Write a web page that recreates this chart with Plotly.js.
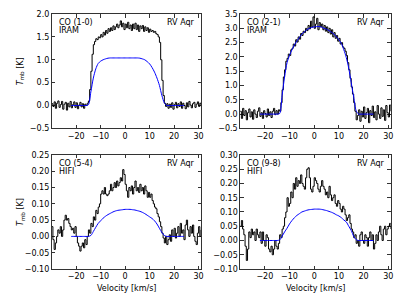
<!DOCTYPE html>
<html><head><meta charset="utf-8">
<script src="https://cdn.plot.ly/plotly-3.0.1.min.js"></script>
<style>html,body{margin:0;padding:0;background:#fff;}#c{width:407px;height:305px;}</style>
</head><body><div id="c"></div>
<script>
// channel velocities [km/s]
var velocity = [-30,-29.5,-29,-28.5,-28,-27.5,-27,-26.5,-26,-25.5,-25,-24.5,-24,-23.5,-23,-22.5,-22,-21.5,-21,-20.5,-20,-19.5,-19,-18.5,-18,-17.5,-17,-16.5,-16,-15.5,
-15,-14.5,-14,-13.5,-13,-12.5,-12,-11.5,-11,-10.5,-10,
-9.5,-9,-8.5,-8,-7.5,-7,-6.5,-6,-5.5,-5,-4.5,-4,-3.5,-3,-2.5,-2,-1.5,-1,-0.5,0,0.5,1,1.5,2,2.5,3,3.5,4,4.5,5,5.5,6,6.5,7,7.5,8,8.5,9,9.5,10,10.5,11,11.5,12,
12.5,13,13.5,14,14.5,15,15.5,16,16.5,17,
17.5,18,18.5,19,19.5,20,20.5,21,21.5,22,22.5,23,23.5,24,24.5,25,25.5,26,26.5,27,27.5,28,28.5,29,29.5,30,30.5,31];

var co10 = [0.04,-0.02,0.08,-0.06,0.05,0.1,-0.04,0.02,0.09,-0.08,0.03,0.07,-0.1,0.05,-0.03,0.09,-0.05,0.02,0.08,-0.04,0.06,-0.07,0.01,0.07,-0.03,0.04,-0.06,0.03,0.0,0.05,
0.1,0.35,0.75,1.12,1.33,1.4,1.46,1.44,1.5,1.48,1.55,
1.5,1.6,1.54,1.64,1.58,1.68,1.62,1.7,1.64,1.74,1.66,1.72,1.78,1.7,1.76,1.85,1.72,1.8,1.66,1.78,1.7,1.82,1.68,1.76,1.64,1.78,1.68,1.8,1.66,1.76,1.62,1.74,1.68,1.75,1.62,1.72,1.64,1.7,1.6,1.67,1.62,1.64,1.6,1.62,
1.57,1.55,1.5,1.38,1.0,0.55,0.22,0.05,-0.02,0.04,
-0.06,0.03,-0.04,0.06,-0.08,0.02,0.07,-0.05,0.04,-0.02,0.08,-0.06,0.05,0.0,-0.07,0.06,-0.03,0.09,0.01,-0.05,0.04,0.07,-0.04,0.03,0.08,-0.02,0.05,0.0];

var co21 = [0.1,-0.15,0.2,-0.05,0.12,-0.2,0.05,0.18,-0.1,0.08,-0.18,0.15,0.0,-0.12,0.1,0.22,-0.08,0.05,-0.15,0.12,0.02,-0.1,0.18,-0.05,0.08,-0.12,0.1,0.2,-0.02,0.12,
0.0,0.15,0.1,0.4,0.85,1.3,1.55,1.85,1.95,2.1,2.05,
2.25,2.3,2.45,2.38,2.6,2.52,2.7,2.62,2.82,2.75,2.9,2.85,3.0,2.92,3.1,2.98,3.25,3.05,3.4,3.0,3.15,3.35,2.95,3.2,3.05,3.15,2.95,3.1,2.9,3.05,2.85,3.0,2.8,2.95,2.7,2.85,2.65,2.75,2.55,2.65,2.45,2.5,2.35,2.3,
2.2,2.05,1.8,1.55,1.25,0.95,0.7,0.4,0.1,-0.2,
-0.05,0.15,-0.25,0.1,-0.1,0.25,-0.15,0.05,0.2,-0.3,0.12,-0.05,0.28,-0.12,0.08,-0.2,0.3,0.0,-0.15,0.22,-0.08,0.15,-0.22,0.3,0.05,-0.1,0.32,0.1];

var co54 = [0.03,-0.01,-0.04,-0.02,0.0,0.02,0.01,0.03,0.0,0.02,0.05,0.065,0.05,0.055,0.04,0.03,0.02,0.025,0.01,0.03,0.0,-0.02,-0.03,-0.045,-0.03,-0.02,-0.035,-0.01,-0.025,0.0,
0.02,0.01,0.04,0.03,0.06,0.05,0.08,0.07,0.09,0.1,0.13,
0.14,0.13,0.15,0.13,0.125,0.13,0.14,0.16,0.14,0.15,0.165,0.15,0.17,0.155,0.165,0.18,0.17,0.205,0.19,0.16,0.14,0.12,0.15,0.14,0.155,0.13,0.15,0.17,0.14,0.15,0.135,0.16,0.14,0.15,0.13,0.155,0.14,0.12,0.135,0.12,0.13,0.11,0.1,0.09,
0.085,0.07,0.06,0.045,0.03,0.01,-0.005,-0.02,0.0,-0.025,
-0.01,0.005,-0.015,0.02,0.0,0.025,-0.005,0.01,0.03,0.0,0.04,0.01,0.02,-0.01,0.035,0.05,0.02,0.0,0.03,0.01,0.035,0.0,-0.015,-0.025,0.01,0.03,0.0,0.02];

var co98 = [0.05,0.07,0.04,0.02,-0.02,-0.07,-0.03,0.03,0.01,0.04,0.02,0.03,0.0,0.04,0.02,0.01,0.03,-0.01,0.03,0.0,-0.02,0.02,0.01,-0.03,-0.04,-0.02,-0.05,-0.03,0.0,-0.02,
-0.03,-0.01,0.02,0.01,0.04,0.05,0.08,0.1,0.15,0.12,0.13,
0.17,0.15,0.2,0.18,0.22,0.19,0.21,0.2,0.23,0.2,0.19,0.18,0.22,0.25,0.255,0.22,0.18,0.17,0.19,0.22,0.21,0.2,0.18,0.17,0.19,0.21,0.19,0.18,0.16,0.17,0.15,0.19,0.16,0.14,0.15,0.16,0.13,0.12,0.14,0.13,0.11,0.1,0.12,0.11,
0.09,0.07,0.08,0.09,0.06,0.04,0.03,0.01,0.02,-0.01,
0.0,-0.02,0.02,0.03,0.0,-0.01,0.02,0.01,-0.02,0.01,0.03,0.0,0.02,-0.03,-0.01,0.02,0.0,0.03,0.05,0.02,0.0,0.04,0.05,0.02,0.04,0.05,0.06,0.04];

// model velocities [km/s]
var modelVel = [-22,-21,-20,-19,-18,-17,-16,-15,-14,-13,-12,-11,-10,-9,-8,-7,-6,-5,-4,-3,-2,-1,0,1,2,3,4,5,6,7,8,9,10,11,12,13,14,15,16,17,18,19,20,21,22,23,24];
var model10 = [0,0,0,0,0,0,0,0.02,0.3,0.6,0.8,0.92,0.97,1.0,1.02,1.035,1.04,1.04,1.04,1.04,1.04,1.04,1.04,1.04,1.04,1.04,1.04,1.04,1.035,1.02,1.0,0.96,0.91,0.83,0.73,0.6,0.44,0.22,0.06,0,0,0,0,0,0,0,0];
var model21 = [0,0,0,0,0,0,0,0,0.02,0.65,1.3,1.8,2.05,2.25,2.42,2.56,2.68,2.8,2.88,2.95,3.0,3.03,3.05,3.06,3.06,3.04,3.0,2.97,2.92,2.86,2.8,2.7,2.6,2.47,2.25,1.98,1.6,1.1,0.6,0.12,0,0,0,0,0,0,0];
var model54 = [0,0,0,0,0,0,0,0,0.003,0.015,0.028,0.04,0.048,0.056,0.062,0.067,0.071,0.075,0.078,0.08,0.081,0.082,0.083,0.083,0.083,0.082,0.081,0.079,0.077,0.074,0.07,0.065,0.06,0.055,0.048,0.038,0.025,0.012,0.003,0,0,0,0,0,0,0,0];
var model98 = [0,0,0,0,0,0,0,0,0.002,0.015,0.03,0.043,0.058,0.07,0.08,0.088,0.094,0.1,0.103,0.106,0.108,0.109,0.11,0.11,0.11,0.109,0.107,0.105,0.102,0.099,0.095,0.09,0.086,0.08,0.072,0.065,0.05,0.035,0.015,0.003,0,0,0,0,0,0,0];

var lineNames = ["CO (1-0)","CO (2-1)","CO (5-4)","CO (9-8)"];
var telescopes = ["IRAM","IRAM","HIFI","HIFI"];
var starName = "RV Aqr";
var xTicks = [-20,-10,0,10,20,30];
var yTicks1 = [-0.5,0.0,0.5,1.0,1.5,2.0];
var yTicks2 = [-0.5,0.0,0.5,1.0,1.5,2.0,2.5,3.0,3.5];
var yTicks3 = [-0.10,-0.05,0.00,0.05,0.10,0.15,0.20,0.25];
var yTicks4 = [-0.10,-0.05,0.00,0.05,0.10,0.15,0.20,0.25,0.30];

var obs = [co10, co21, co54, co98];
var mod = [model10, model21, model54, model98];
var traces = [];
for (var i = 0; i < 4; i++) {
  var ax = i === 0 ? '' : String(i + 1);
  traces.push({x: velocity, y: obs[i], xaxis: 'x' + ax, yaxis: 'y' + ax, type: 'scatter', mode: 'lines',
    line: {shape: 'hv', color: '#000', width: 1}, hoverinfo: 'skip'});
  traces.push({x: modelVel, y: mod[i], xaxis: 'x' + ax, yaxis: 'y' + ax, type: 'scatter', mode: 'lines',
    line: {shape: 'spline', smoothing: 0.8, color: '#0000ff', width: 1}, hoverinfo: 'skip'});
}

var F = {family: 'DejaVu Sans, sans-serif', size: 8, color: '#000'};
function xa(dom, anchor) {
  return {domain: dom, anchor: anchor, range: [-30, 31], tickvals: xTicks, ticks: 'inside', ticklen: 3.5,
    tickwidth: 0.8, tickcolor: '#000', showline: true, linecolor: '#000', linewidth: 0.8, mirror: 'ticks',
    showgrid: false, zeroline: false, tickfont: F};
}
function ya(dom, anchor, range, vals, fmt) {
  return {domain: dom, anchor: anchor, range: range, tickvals: vals, tickformat: fmt, ticks: 'inside', ticklen: 3.5,
    tickwidth: 0.8, tickcolor: '#000', showline: true, linecolor: '#000', linewidth: 0.8, mirror: 'ticks',
    showgrid: false, zeroline: false, tickfont: F};
}
var xL = [0.127, 0.494], xR = [0.590, 0.960];
var yT = [0.579, 0.954], yB = [0.118, 0.492];

var ann = [];
var refs = [['x','y'],['x2','y2'],['x3','y3'],['x4','y4']];
for (var k = 0; k < 4; k++) {
  ann.push({xref: refs[k][0] + ' domain', yref: refs[k][1] + ' domain', x: 0.035, y: 0.985, xanchor: 'left', yanchor: 'top',
    text: lineNames[k], showarrow: false, font: F});
  ann.push({xref: refs[k][0] + ' domain', yref: refs[k][1] + ' domain', x: 0.035, y: 0.91, xanchor: 'left', yanchor: 'top',
    text: telescopes[k], showarrow: false, font: F});
  ann.push({xref: refs[k][0] + ' domain', yref: refs[k][1] + ' domain', x: 0.972, y: 0.985, xanchor: 'right', yanchor: 'top',
    text: starName, showarrow: false, font: F});
}
var ytitle = '<i>T</i><sub>mb</sub> [K]';
ann.push({xref: 'paper', yref: 'paper', x: 21/407, y: (yT[0]+yT[1])/2, xanchor: 'center', yanchor: 'middle', textangle: -90, text: ytitle, showarrow: false, font: F});
ann.push({xref: 'paper', yref: 'paper', x: 21/407, y: (yB[0]+yB[1])/2, xanchor: 'center', yanchor: 'middle', textangle: -90, text: ytitle, showarrow: false, font: F});
ann.push({xref: 'paper', yref: 'paper', x: (xL[0]+xL[1])/2, y: 1-288/305, xanchor: 'center', yanchor: 'middle', text: 'Velocity [km/s]', showarrow: false, font: F});
ann.push({xref: 'paper', yref: 'paper', x: (xR[0]+xR[1])/2, y: 1-288/305, xanchor: 'center', yanchor: 'middle', text: 'Velocity [km/s]', showarrow: false, font: F});

var layout = {
  width: 407, height: 305, margin: {l: 0, r: 0, t: 0, b: 0}, showlegend: false,
  paper_bgcolor: '#fff', plot_bgcolor: '#fff', font: F,
  xaxis: xa(xL, 'y'), yaxis: ya(yT, 'x', [-0.5, 2.0], yTicks1, '.1f'),
  xaxis2: xa(xR, 'y2'), yaxis2: ya(yT, 'x2', [-0.5, 3.5], yTicks2, '.1f'),
  xaxis3: xa(xL, 'y3'), yaxis3: ya(yB, 'x3', [-0.10, 0.25], yTicks3, '.2f'),
  xaxis4: xa(xR, 'y4'), yaxis4: ya(yB, 'x4', [-0.10, 0.30], yTicks4, '.2f'),
  annotations: ann
};
Plotly.newPlot('c', traces, layout, {staticPlot: true, displayModeBar: false});
</script></body></html>
